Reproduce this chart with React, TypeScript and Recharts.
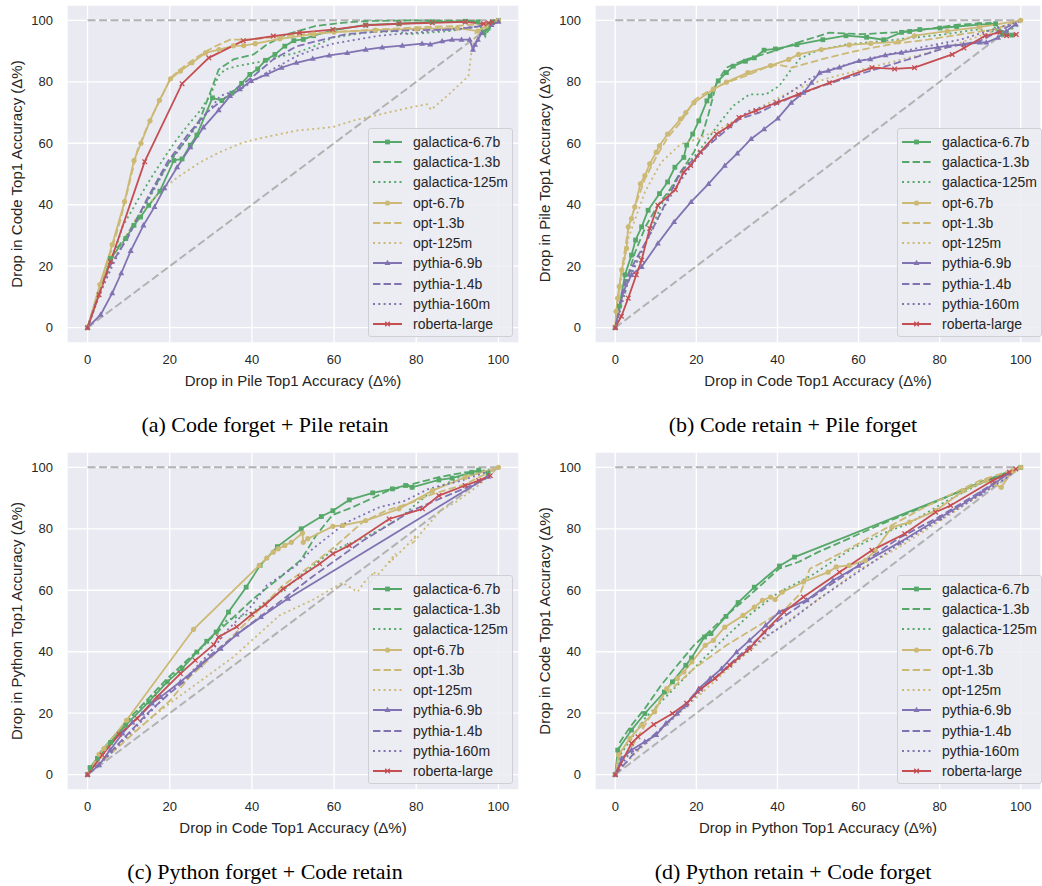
import React from "react";
import { LineChart, Line, XAxis, YAxis, CartesianGrid, Legend } from "recharts";

type Pt = [number, number];

const MODELS = [
  "galactica-6.7b",
  "galactica-1.3b",
  "galactica-125m",
  "opt-6.7b",
  "opt-1.3b",
  "opt-125m",
  "pythia-6.9b",
  "pythia-1.4b",
  "pythia-160m",
  "roberta-large",
];

const TICKS = [0, 20, 40, 60, 80, 100];
const DIAGONAL: Pt[] = [[0, 0], [100, 100]];
const CEILING: Pt[] = [[0, 100], [100, 100]];

// (a) Code forget + Pile retain
const A_GAL_67B: Pt[] = [[0,0],[5.6,22.5],[9.3,29],[11.3,33.3],[12.9,36],[14.9,39.8],[17.6,44.4],[21,54.4],[23,54.9],[25,59.4],[26.6,62.7],[30.4,74.8],[32.7,73.9],[35.1,76.3],[37.5,79.5],[39.5,82.4],[41.4,84.2],[43.3,87],[45.6,88.9],[48,91.6],[50.2,93.4],[52.5,93.8],[55,95],[60,96.8],[67.7,98.5],[75.8,98.9],[83.9,99.5],[92,99.7],[95,99.5],[96.5,96],[97.5,97.5],[98.5,99.5],[100,100]];
const A_GAL_13B: Pt[] = [[0,0],[3,13],[6.5,24.7],[9.5,30],[12.9,37.6],[16,45],[19,52],[21,56],[24,61],[27.4,67.9],[30,77],[31.9,84],[33.5,85.5],[35.5,87.3],[40.4,88.9],[43.6,92.1],[48.4,95.4],[52,96.8],[55.6,98.2],[62,99.2],[67.7,99.8],[80,100],[95,99.8],[96.8,94.8],[98,98],[100,100]];
const A_GAL_125M: Pt[] = [[0,0],[3,12],[5.5,20],[8.5,32.8],[12,41],[15.3,48.4],[18.5,55],[21.8,61.4],[24.5,66],[27.4,70.6],[30,76],[31.9,82],[33.5,84],[36.3,85.1],[42.8,86.7],[46,88],[50.8,89.4],[55,91.5],[59.7,94.4],[67.7,96],[75,96.5],[78.2,95.5],[83,96],[87.9,96.5],[95,98],[98.4,99.6],[100,100]];
const A_OPT_67B: Pt[] = [[0,0],[3,14],[6,27],[9,41],[11.3,54.4],[13,60],[15.2,67.3],[17.5,74],[20.2,81],[22.6,83.5],[25.4,86.2],[28.7,89.4],[32,90.5],[35.5,91.7],[38,91.8],[40.8,92.4],[46.8,94],[55,95.5],[60,96.2],[70,96.8],[80,97.2],[90,97.5],[95,96.5],[97,98.2],[100,100]];
const A_OPT_13B: Pt[] = [[0,0],[4,17],[8,35],[12.1,57.6],[15.3,67.9],[18,75],[20.2,81.3],[23,84.5],[26,87.5],[29,90],[31,91.5],[34.7,93.7],[40,93.8],[45,94.5],[50,95.2],[60,96.2],[70,97],[80,97.7],[90,98.2],[96,98.8],[100,100]];
const A_OPT_125M: Pt[] = [[0,0],[3,11],[6,21],[9,29],[12,36],[15,40.5],[18.6,45.4],[22,49],[27.4,53.8],[32,57],[37.9,60.3],[44,62.2],[50.8,64.1],[59.7,65.3],[65,67.5],[71.8,69.6],[78,71.5],[82.6,72.7],[83.6,70.9],[88,76],[92.7,81.9],[93.4,89.4],[94.4,95.9],[97,98],[100,100]];
const A_PYT_69B: Pt[] = [[0,0],[3.2,4.2],[6,11.2],[8.2,17.7],[10.5,25],[13.6,33.3],[16.3,39.3],[18.7,45.4],[21.8,52.2],[25,58.7],[28.2,65.2],[31.9,70.8],[34.7,75.4],[37.1,77.6],[39.8,80.3],[43.6,82.4],[47.2,84.6],[50.8,86.2],[54.8,87.5],[58.8,88.6],[63.2,89.4],[67.7,90.5],[71.7,91.2],[76.6,91.8],[81.4,92.4],[83.4,92.2],[86.3,93.2],[88.7,93.7],[91,93.7],[93,93.7],[93.8,90.5],[94.3,92.1],[95,93.7],[95.9,95.9],[98.3,98.5],[100,99.6]];
const A_PYT_14B: Pt[] = [[0,0],[2.5,10],[5.6,20.4],[9.7,29],[14.5,42],[19.4,53.8],[24.2,62.5],[29,70],[35.5,77],[40.4,81.9],[45.2,87.3],[50.8,91.5],[55,93],[62.9,95.5],[70,96.3],[79,96.8],[89.5,97],[95,98],[98.3,99.2],[100,100]];
const A_PYT_160M: Pt[] = [[0,0],[3,11],[6,20],[9.7,30],[14.5,40.9],[19.4,52.7],[24.2,61.4],[28,68],[32.3,75.4],[37.9,78.1],[43.6,83],[50.8,88.3],[55,90.5],[60,92.5],[71,95],[83,96.4],[95,98],[100,99.5]];
const A_ROB_L: Pt[] = [[0,0],[2.8,10.7],[5.6,21.5],[13.9,54],[23,79.4],[29.5,87.8],[37.9,93.4],[45.2,94.9],[51.6,96],[59.7,97],[67.7,98.4],[75.8,98.9],[83.9,99.2],[91.9,99.5],[96.4,98.9],[97.6,99.2],[98.5,99.5]];

// (b) Code retain + Pile forget
const B_GAL_67B: Pt[] = [[0,0],[1,7],[2.4,17.2],[4,23.6],[5,28.5],[6.5,32.8],[8.1,38.2],[10.9,43.6],[12.9,47.4],[14.7,52.2],[16.9,55.4],[17.6,59.4],[19.1,63],[20.6,67.3],[22.6,73.8],[23.4,75.4],[25.4,80.3],[27.4,83],[29.1,85.1],[32.1,86.7],[34.3,87.8],[36.7,90.3],[39.5,90.7],[44.8,92.1],[51.2,93.7],[56.9,95],[62,94.5],[66.2,93.7],[70.6,96.1],[72.6,96.4],[75.1,97],[80.1,97.5],[84.2,98],[89.8,98.6],[93.8,98.9],[95.4,96],[97.8,95.2]];
const B_GAL_13B: Pt[] = [[0,0],[1.5,10],[4.8,24.2],[7.5,33],[10.5,39.8],[13.5,45],[16.1,50.6],[19.4,57.1],[21.5,63],[23,69.5],[25,79.7],[27.4,84.6],[32.3,87.3],[39.1,90],[44.8,92.7],[52.8,96],[60.9,95.5],[68.9,96.1],[76,97],[84.5,98.6],[92.6,99.2],[95.4,94.8],[97,95.5]];
const B_GAL_125M: Pt[] = [[0,0],[3.2,15],[7.3,26.9],[11.3,39.8],[16.9,51.7],[21,58.1],[25.8,66.8],[29.1,72.2],[33.1,75.9],[37.1,75.9],[40.4,78.6],[42.8,83],[45.5,87.5],[50,90.3],[56.9,92.1],[68.9,93.7],[81,95.4],[89,97],[96.2,95.9],[100,99]];
const B_OPT_67B: Pt[] = [[0,0],[0.2,5.3],[0.6,9.6],[1,13.4],[1.6,18.8],[2.8,25.8],[3.2,32.8],[4,35.5],[4.8,39.3],[6.2,46.8],[7.3,49.5],[8.5,53.3],[10.1,57.1],[10.9,59.2],[12.9,63],[16.1,67.9],[17.4,70],[19.4,73.2],[24.2,77.6],[27.4,79.9],[32.7,83],[38.3,85.3],[42.8,87.3],[45.2,88.9],[50.8,90.5],[57.7,92],[63,92.5],[69.8,93],[73.8,95],[81.9,96.5],[89.9,97.8],[100,100]];
const B_OPT_13B: Pt[] = [[0,0],[0.5,8],[1.5,18],[3.2,32.3],[5,40],[7.3,48.4],[10.5,56.5],[13,62],[16.1,66.8],[19.7,74.3],[23,77],[27.4,79.7],[33.1,82.4],[37.9,85.1],[40.5,85.5],[43.6,84.6],[50.8,87.3],[60.9,90.5],[68.9,92.4],[77,93.7],[85,95.4],[93.1,97],[100,100]];
const B_OPT_125M: Pt[] = [[0,0],[1,12],[3.2,29],[7.3,44.1],[11.3,53.8],[16.1,59.7],[20.2,61.4],[25.8,64.6],[31.5,68.9],[37.9,73.2],[44.8,77.8],[52.8,81.3],[60.9,84],[68.9,86.7],[77,89.4],[85,92.7],[93.1,96.4],[100,100]];
const B_PYT_69B: Pt[] = [[0,0],[2,11.8],[4,17.2],[6.5,19.8],[10.5,27.4],[14.5,34.4],[18.7,40.9],[23,46.8],[27,52.7],[30.1,56.7],[33.5,61.4],[36.7,64.6],[40.1,68.1],[43.4,73.2],[46.4,76.5],[48.4,79.7],[50.4,83],[52.5,83.6],[55.3,84.7],[60.1,86.8],[62.9,87.4],[66.6,88.7],[70.6,89.5],[79.5,91.2],[81.9,91.7],[85.9,92.2],[89.9,92.8],[91.5,92.8],[94.4,94.4],[96.4,96.5],[98.8,98.7]];
const B_PYT_14B: Pt[] = [[0,0],[2.4,15],[5,22],[8,29],[11.3,37.6],[16.1,50.6],[21,57.1],[25.8,62.5],[30.6,67.9],[35.5,70],[40.4,73.2],[45.2,75.9],[50.8,78.6],[57.7,81.5],[65.8,84.7],[73.8,87.9],[81.9,91.2],[89.9,93.3],[98,98.7]];
const B_PYT_160M: Pt[] = [[0,0],[3.2,16.1],[7.3,26.9],[11.3,37.6],[15.3,46.3],[19.4,53.8],[23.4,60.3],[27.4,65.2],[33.1,70.6],[38.7,72.7],[43.6,77],[48,81],[52.8,84],[60.9,87],[68.9,89.4],[77,91.6],[85,93.7],[93.1,97],[100,99.7]];
const B_ROB_L: Pt[] = [[0,0],[1.5,3.7],[3.2,9.6],[5.2,17.2],[6.5,22],[8.5,32.3],[10.5,39.8],[14.8,44.9],[16.9,50.6],[18.6,52.8],[21,57.1],[25,63],[28.2,65.7],[30.5,68.4],[34.7,70.6],[39.8,73.2],[45.2,75.9],[52.8,79.7],[63.3,84.6],[68.9,84.2],[73.8,84.6],[83.1,88.9],[86,91],[91.2,95],[94.9,96.1],[96.5,95],[98.9,95.4]];

// (c) Python forget + Code retain
const C_GAL_67B: Pt[] = [[0,0],[0.6,2.3],[2.4,5.3],[5.6,10.5],[9.3,16.1],[14.9,23.7],[19.4,30.2],[23,34.5],[26.6,39.9],[29,43.4],[31.3,46.4],[34.3,52.9],[38.6,61],[42,68.1],[46.2,74.2],[52,80],[56.9,84],[59.7,85.9],[63.7,89.4],[69.4,91.7],[74.2,93],[77.4,94.1],[79,93.5],[85.5,95.9],[88.7,96.5],[93.5,98.4],[95.2,99.1],[97.5,98]];
const C_GAL_13B: Pt[] = [[0,0],[3.2,7.5],[9.3,17],[19.4,31.3],[29,43.1],[34.7,50.2],[40.4,57.3],[46.7,64],[52,70],[55.6,77.8],[59.6,84.5],[64.5,87],[73.3,92.5],[77.4,94],[85.5,96.8],[91.9,98.4],[97,98.8]];
const C_GAL_125M: Pt[] = [[0,0],[3,6.5],[9,16.5],[19,30],[28,41.5],[33.9,50.3],[39.5,52.4],[47.6,60],[53,66],[59.7,73],[67.7,77.3],[75.8,83.2],[79,87],[83.9,92.4],[91.9,97.8],[98.4,99.5]];
const C_OPT_67B: Pt[] = [[0,0],[2.8,6.6],[4,8.5],[9.5,17.7],[25.8,47.3],[41.8,68.1],[43.6,70.5],[45.2,72.4],[46.4,73.5],[48,74.6],[49.6,75.6],[52.3,78.6],[52.5,75.6],[53.6,76.8],[59.7,80.8],[62.1,81.1],[67.7,82.7],[75.8,86.5],[83.9,92.4],[91.9,96.8],[100,100]];
const C_OPT_13B: Pt[] = [[0,0],[5,6],[10,12],[20,24],[25,32],[30,38],[36,46],[42,54],[47.6,61.6],[53.3,67],[60,74],[66.9,82.1],[72.6,85.9],[79,88.6],[83.9,91.3],[91.9,94.5],[100,100]];
const C_OPT_125M: Pt[] = [[0,0],[4.8,6.9],[19.4,22.6],[35.5,38.3],[46.7,51.8],[55,57],[62,62.5],[65.7,59.5],[67.7,63.2],[70,66],[68.5,62],[72,67],[75,72],[73.5,69],[78,75],[80,78],[79,75],[82,80],[84,83],[86,86],[90,89],[95,94],[100,100]];
const C_PYT_69B: Pt[] = [[0,0],[2.8,3.1],[5.5,8],[8.5,13.4],[10.9,17],[13.3,19.9],[15.7,23.2],[17.8,25.3],[22.6,30.2],[27.4,35.6],[32.4,41],[36.3,45.6],[42.2,51.3],[48.8,57.3],[97.5,97]];
const C_PYT_14B: Pt[] = [[0,0],[5,6.5],[10,13.5],[15,20.5],[20,26.5],[23.4,30.2],[29.9,38.9],[37.1,46.5],[43.6,53],[48,57.5],[54.8,64.5],[66.9,76],[79,86],[87,90.5],[95,95],[98.3,97.5]];
const C_PYT_160M: Pt[] = [[0,0],[5,6],[10,13],[15,20],[20,27],[25,33],[30,40],[34,47],[40,55],[43.6,61.6],[50.8,68],[54.8,73.5],[62.9,82],[71,87],[77,89],[83,93],[91,95.7],[98.3,99]];
const C_ROB_L: Pt[] = [[0,0],[3.6,6.4],[7.7,13.1],[12.1,18.3],[16.9,25.3],[22.6,32.9],[26.2,37.2],[30.7,42.3],[31.9,44.8],[36.3,48.1],[40,52.2],[43.2,55.3],[47.6,60.5],[51.7,64.3],[56.5,68.6],[59.7,71.9],[63.7,74.6],[73.4,83.2],[81.5,86.5],[85.5,90.8],[91.9,94.1],[95.2,95.7],[98,97.3]];

// (d) Python retain + Code forget
const D_GAL_67B: Pt[] = [[0,0],[0.6,8],[4,14.5],[7.3,19.9],[12.1,26.9],[14.1,30.2],[17.4,35.6],[18.8,38],[22,44.8],[23.6,45.9],[27.3,51.5],[30.3,56],[34.3,61],[40.5,67.9],[44.2,70.8],[100,100]];
const D_GAL_13B: Pt[] = [[0,0],[1.2,10.7],[4,16.1],[7.3,21.5],[11.3,29.1],[15.3,35.6],[19.4,42.1],[22.6,45.9],[27.4,51.8],[33.1,58.3],[40.4,67],[45.2,69.2],[50,72.4],[65.8,81.6],[77.8,88.1],[89.9,95.1],[100,100]];
const D_GAL_125M: Pt[] = [[0,0],[1,6],[7.3,18.3],[15.3,29.1],[23.4,39.9],[27.4,45],[33.1,52],[40.4,59.4],[48.4,64.8],[57.7,73],[65.8,78.4],[72.2,81.6],[81.9,89.2],[89.9,94.6],[100,100]];
const D_OPT_67B: Pt[] = [[0,0],[0.8,6.4],[3.6,11.8],[6.5,16.1],[9.7,20.5],[12.7,28],[15.3,31.3],[16.9,33.4],[18.9,36.7],[22.2,42.1],[24.2,43.7],[27,48],[31.5,51.8],[34.3,54.5],[36.3,56.7],[38.3,57.8],[39.4,57],[41.2,59.4],[46.4,62.7],[52.5,65.9],[54.5,67.6],[57.7,68.1],[61.7,69.7],[64.1,73],[68.2,80.5],[72.6,82.2],[79,85.9],[85.9,92.4],[91.5,95.7],[95.2,93.5],[98,98.9],[100,100]];
const D_OPT_13B: Pt[] = [[0,0],[2,5],[5,11],[11.3,24.8],[19.4,34.5],[27.4,42.1],[35.5,48.6],[42,54],[45.6,58.9],[48,67],[52.1,69.7],[57.7,73.5],[65.8,79.5],[77,87.5],[89.9,95.7],[100,100]];
const D_OPT_125M: Pt[] = [[0,0],[5,7],[10,13],[20,25],[30,37],[40,47.5],[50,57],[60,66.5],[70,74],[80,82.5],[90,91],[100,100]];
const D_PYT_69B: Pt[] = [[0,0],[1.6,5.3],[4,8],[7.3,10.7],[10.1,12.9],[12.5,16.7],[15.3,19.9],[17.4,22.6],[20.6,28],[23.4,31.3],[26.2,34.5],[29.9,39.9],[33.1,43.7],[37.1,48.6],[40.4,52.9],[47.2,56.8],[53.7,63.2],[60,68],[70,75.5],[80,83.5],[90,91.5],[97,98]];
const D_PYT_14B: Pt[] = [[0,0],[5,7.5],[10,13.5],[15,19.5],[20,27],[25,32],[30,38],[35,44],[40,50],[50,59],[60,68],[70,77],[80,84],[90,92],[98,99]];
const D_PYT_160M: Pt[] = [[0,0],[3,6],[8,11],[13,17],[18,23],[23,30],[30,37],[36,44],[42,49],[50,57],[60,66],[70,75],[80,83],[90,91],[97,97]];
const D_ROB_L: Pt[] = [[0,0],[4,10.2],[5.6,12.3],[9.5,16.3],[14.1,19.9],[17.6,23.2],[21,27.8],[24.6,31.3],[28.2,35.6],[33.1,41],[36.7,46.4],[41.6,52.9],[46.4,57.8],[55.3,65.9],[63.3,73],[71.4,78.4],[79,85.4],[82.7,87.6],[93.1,95.7],[97.2,98.4],[98.8,99.5]];

const GREEN = "#55A868";
const GOLD = "#CCB974";
const PURPLE = "#8172B2";
const RED = "#C44E52";
const DASH = "7.4 3.2";
const DOT = "2 3.3";

const STYLES = [
  { color: GREEN, dash: undefined, marker: "square" },
  { color: GREEN, dash: DASH, marker: null },
  { color: GREEN, dash: DOT, marker: null },
  { color: GOLD, dash: undefined, marker: "circle" },
  { color: GOLD, dash: DASH, marker: null },
  { color: GOLD, dash: DOT, marker: null },
  { color: PURPLE, dash: undefined, marker: "triangle" },
  { color: PURPLE, dash: DASH, marker: null },
  { color: PURPLE, dash: DOT, marker: null },
  { color: RED, dash: undefined, marker: "x" },
];

const PANELS = [
  {
    id: "a", left: 0, top: 0, width: 520, capX: 265, capY: 425,
    xLabel: "Drop in Pile Top1 Accuracy (Δ%)",
    yLabel: "Drop in Code Top1 Accuracy (Δ%)",
    caption: "(a) Code forget + Pile retain",
    series: [A_GAL_67B, A_GAL_13B, A_GAL_125M, A_OPT_67B, A_OPT_13B, A_OPT_125M, A_PYT_69B, A_PYT_14B, A_PYT_160M, A_ROB_L],
  },
  {
    id: "b", left: 528, top: 0, width: 514, capX: 793, capY: 425,
    xLabel: "Drop in Code Top1 Accuracy (Δ%)",
    yLabel: "Drop in Pile Top1 Accuracy (Δ%)",
    caption: "(b) Code retain + Pile forget",
    series: [B_GAL_67B, B_GAL_13B, B_GAL_125M, B_OPT_67B, B_OPT_13B, B_OPT_125M, B_PYT_69B, B_PYT_14B, B_PYT_160M, B_ROB_L],
  },
  {
    id: "c", left: 0, top: 447, width: 520, capX: 265, capY: 872,
    xLabel: "Drop in Code Top1 Accuracy (Δ%)",
    yLabel: "Drop in Python Top1 Accuracy (Δ%)",
    caption: "(c) Python forget + Code retain",
    series: [C_GAL_67B, C_GAL_13B, C_GAL_125M, C_OPT_67B, C_OPT_13B, C_OPT_125M, C_PYT_69B, C_PYT_14B, C_PYT_160M, C_ROB_L],
  },
  {
    id: "d", left: 528, top: 447, width: 514, capX: 793, capY: 872,
    xLabel: "Drop in Python Top1 Accuracy (Δ%)",
    yLabel: "Drop in Code Top1 Accuracy (Δ%)",
    caption: "(d) Python retain + Code forget",
    series: [D_GAL_67B, D_GAL_13B, D_GAL_125M, D_OPT_67B, D_OPT_13B, D_OPT_125M, D_PYT_69B, D_PYT_14B, D_PYT_160M, D_ROB_L],
  },
];

const SANS = "'Liberation Sans', Arial, sans-serif";
const TEXT = "#262626";

const toXY = (pts: Pt[]) => pts.map(([x, y]) => ({ x, y }));

function Marker({ kind, color, cx, cy }: { kind: string; color: string; cx: number; cy: number }) {
  if (kind === "square") return <rect x={cx - 2.4} y={cy - 2.4} width={4.8} height={4.8} fill={color} />;
  if (kind === "circle") return <circle cx={cx} cy={cy} r={2.6} fill={color} />;
  if (kind === "triangle")
    return <polygon points={`${cx},${cy - 3.2} ${cx - 3},${cy + 2.1} ${cx + 3},${cy + 2.1}`} fill={color} />;
  return (
    <path d={`M${cx - 2.3},${cy - 2.3}L${cx + 2.3},${cy + 2.3}M${cx - 2.3},${cy + 2.3}L${cx + 2.3},${cy - 2.3}`} stroke={color} strokeWidth={1.3} />
  );
}

function makeDot(kind: string, color: string) {
  return (p: any) => {
    if (p.cx == null || p.cy == null) return <g key={`e-${p.index}`} />;
    return <Marker key={`m-${p.index}`} kind={kind} color={color} cx={p.cx} cy={p.cy} />;
  };
}

const XTick = (p: any) => (
  <text x={p.x} y={p.y} dy="0.71em" textAnchor="middle" fontSize={13} fill={TEXT} fontFamily={SANS}>
    {p.payload.value}
  </text>
);

const YTick = (p: any) => (
  <text x={p.x} y={p.y} dy="0.355em" textAnchor="end" fontSize={13} fill={TEXT} fontFamily={SANS}>
    {p.payload.value}
  </text>
);

function LegendBox() {
  return (
    <div
      style={{
        boxSizing: "border-box",
        width: 145,
        height: 209,
        background: "rgba(236,236,243,0.85)",
        border: "1px solid #cfcfd6",
        borderRadius: 3,
        paddingTop: 2.5,
        fontFamily: SANS,
        fontSize: 14,
        color: TEXT,
      }}
    >
      {MODELS.map((m, i) => {
        const s = STYLES[i];
        return (
          <div key={m} style={{ height: 20.3, display: "flex", alignItems: "center", whiteSpace: "nowrap" }}>
            <svg width={29} height={12} style={{ marginLeft: 4, marginRight: 11, flex: "none" }}>
              <line x1={0} y1={6} x2={29} y2={6} stroke={s.color} strokeWidth={2} strokeDasharray={s.dash} />
              {s.marker && <Marker kind={s.marker} color={s.color} cx={14.5} cy={6} />}
            </svg>
            <span>{m}</span>
          </div>
        );
      })}
    </div>
  );
}

function Panel({ panel }: { panel: (typeof PANELS)[number] }) {
  const plotCenterX = 67 + (panel.width - 1 - 67) / 2;
  const labelStyle: React.CSSProperties = {
    position: "absolute",
    width: 300,
    height: 18,
    lineHeight: "18px",
    textAlign: "center",
    fontFamily: SANS,
    fontSize: 15,
    color: TEXT,
    whiteSpace: "nowrap",
  };
  return (
    <div style={{ position: "absolute", left: panel.left, top: panel.top, width: panel.width, height: 440 }}>
      <LineChart width={panel.width} height={400} margin={{ top: 5, right: 1, bottom: 0, left: 0 }}>
        <CartesianGrid stroke="#ffffff" strokeWidth={1.3} fill="#EAEAF2" />
        <XAxis
          type="number"
          dataKey="x"
          domain={[-5, 105]}
          ticks={TICKS}
          allowDataOverflow
          axisLine={false}
          tickLine={false}
          height={57}
          tickMargin={6}
          tick={XTick}
        />
        <YAxis
          type="number"
          dataKey="y"
          domain={[-5, 105]}
          ticks={TICKS}
          allowDataOverflow
          axisLine={false}
          tickLine={false}
          width={67}
          tickMargin={8}
          tick={YTick}
        />
        <Line data={toXY(CEILING)} dataKey="y" stroke="#B2B2B2" strokeWidth={2} strokeDasharray="8 3.5" dot={false} activeDot={false} legendType="none" isAnimationActive={false} />
        <Line data={toXY(DIAGONAL)} dataKey="y" stroke="#B2B2B2" strokeWidth={2} strokeDasharray="8 3.5" dot={false} activeDot={false} legendType="none" isAnimationActive={false} />
        {panel.series.map((pts, i) => {
          const s = STYLES[i];
          return (
            <Line
              key={MODELS[i]}
              name={MODELS[i]}
              data={toXY(pts)}
              dataKey="y"
              type="linear"
              stroke={s.color}
              strokeWidth={1.8}
              strokeDasharray={s.dash}
              dot={s.marker ? makeDot(s.marker, s.color) : false}
              activeDot={false}
              isAnimationActive={false}
            />
          );
        })}
        <Legend
          layout="vertical"
          align="center"
          verticalAlign="middle"
          content={() => <LegendBox />}
          wrapperStyle={{ left: panel.width === 520 ? 368 : 369, top: 128, width: 145, height: 209 }}
        />
      </LineChart>
      <div style={{ ...labelStyle, left: plotCenterX - 150, top: 381 - 9 }}>{panel.xLabel}</div>
      <div style={{ ...labelStyle, left: 17 - 150, top: 174 - 9, transform: "rotate(-90deg)" }}>{panel.yLabel}</div>
      <div
        style={{
          position: "absolute",
          left: panel.capX - panel.left - 200,
          top: panel.capY - panel.top - 14,
          width: 400,
          textAlign: "center",
          fontFamily: "'Liberation Serif', 'Times New Roman', serif",
          fontSize: 22,
          lineHeight: "28px",
          color: "#000",
        }}
      >
        {panel.caption}
      </div>
    </div>
  );
}

export default function App() {
  return (
    <div style={{ position: "absolute", left: 0, top: 0, width: 1042, height: 886, background: "#fff" }}>
      {PANELS.map((p) => (
        <Panel key={p.id} panel={p} />
      ))}
    </div>
  );
}
